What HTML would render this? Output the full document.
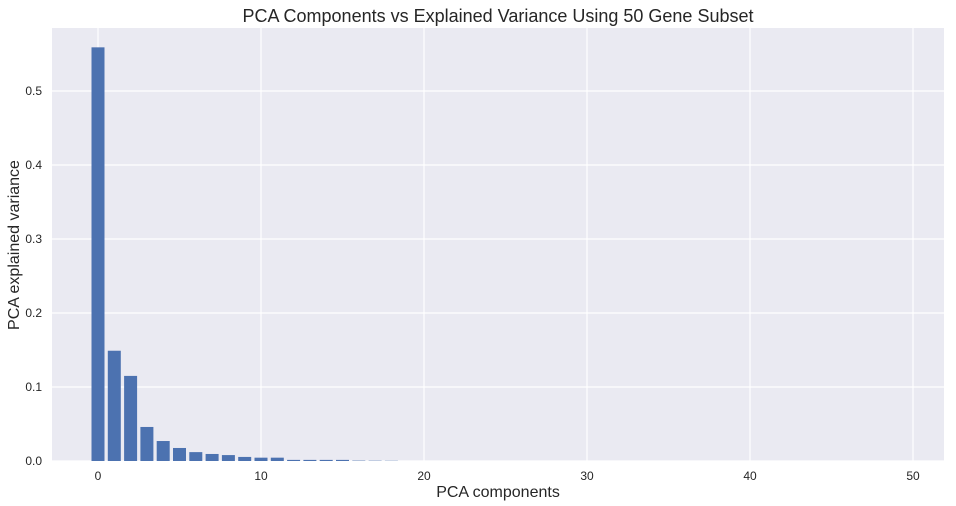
<!DOCTYPE html>
<html><head><meta charset="utf-8"><style>
body{margin:0;background:#fff;}
svg{display:block;font-family:"Liberation Sans",Arial,sans-serif;}
</style></head><body>
<svg id="chart" width="956" height="506">
<rect x="52" y="28" width="892" height="433" fill="#eaeaf2"/>
<g id="grid"></g><g id="bars"></g><g id="ticks"></g>
<text x="498" y="22" text-anchor="middle" font-size="18" fill="#262626">PCA Components vs Explained Variance Using 50 Gene Subset</text>
<text x="498" y="497" text-anchor="middle" font-size="16" fill="#262626">PCA components</text>
<text x="19" y="245" text-anchor="middle" font-size="16" fill="#262626" transform="rotate(-90 19 245)">PCA explained variance</text>
</svg>
<script>
const components=[0,1,2,3,4,5,6,7,8,9,10,11,12,13,14,15,16,17,18,19,20,21,22,23,24,25,26,27,28,29,30,31,32,33,34,35,36,37,38,39,40,41,42,43,44,45,46,47,48,49];
const variance=[0.559,0.149,0.115,0.046,0.027,0.0176,0.012,0.0095,0.008,0.0055,0.0045,0.0045,0.0015,0.0015,0.0015,0.0015,0.0005,0.0004,0.0003,0,0,0,0,0,0,0,0,0,0,0,0,0,0,0,0,0,0,0,0,0,0,0,0,0,0,0,0,0,0,0];
const xTicks=[0,10,20,30,40,50];
const yTicks=[0,0.1,0.2,0.3,0.4,0.5];
const NS='http://www.w3.org/2000/svg';
const X=v=>98+v*16.3;
const Y=v=>461-v*740;
const grid=document.getElementById('grid'),bars=document.getElementById('bars'),ticks=document.getElementById('ticks');
function mk(tag,attrs,parent){const e=document.createElementNS(NS,tag);for(const k in attrs)e.setAttribute(k,attrs[k]);parent.appendChild(e);return e;}
xTicks.forEach(t=>{
 const l=mk('line',{x1:X(t),x2:X(t),y1:28,y2:461,stroke:'#fff','stroke-width':1.2},grid);
 
 
 const tx=mk('text',{x:X(t),y:480,'text-anchor':'middle','font-size':12,fill:'#262626'},ticks);
 tx.textContent=t;
 
 
});
yTicks.forEach(t=>{
 const l=mk('line',{x1:52,x2:944,y1:Y(t),y2:Y(t),stroke:'#fff','stroke-width':1.2},grid);
 
 
 const tx=mk('text',{x:42,y:Y(t)+4,'text-anchor':'end','font-size':12,fill:'#262626'},ticks);
 tx.textContent=t===0?'0.0':t.toFixed(1);
 
 
});
components.forEach((c,i)=>{
 const v=variance[i];
 const b=mk('rect',{x:X(c)-6.5,y:Y(v),width:13,height:Math.max(0,461-Y(v)),fill:'#4c72b0'},bars);
 
 
});
</script>
</body></html>
